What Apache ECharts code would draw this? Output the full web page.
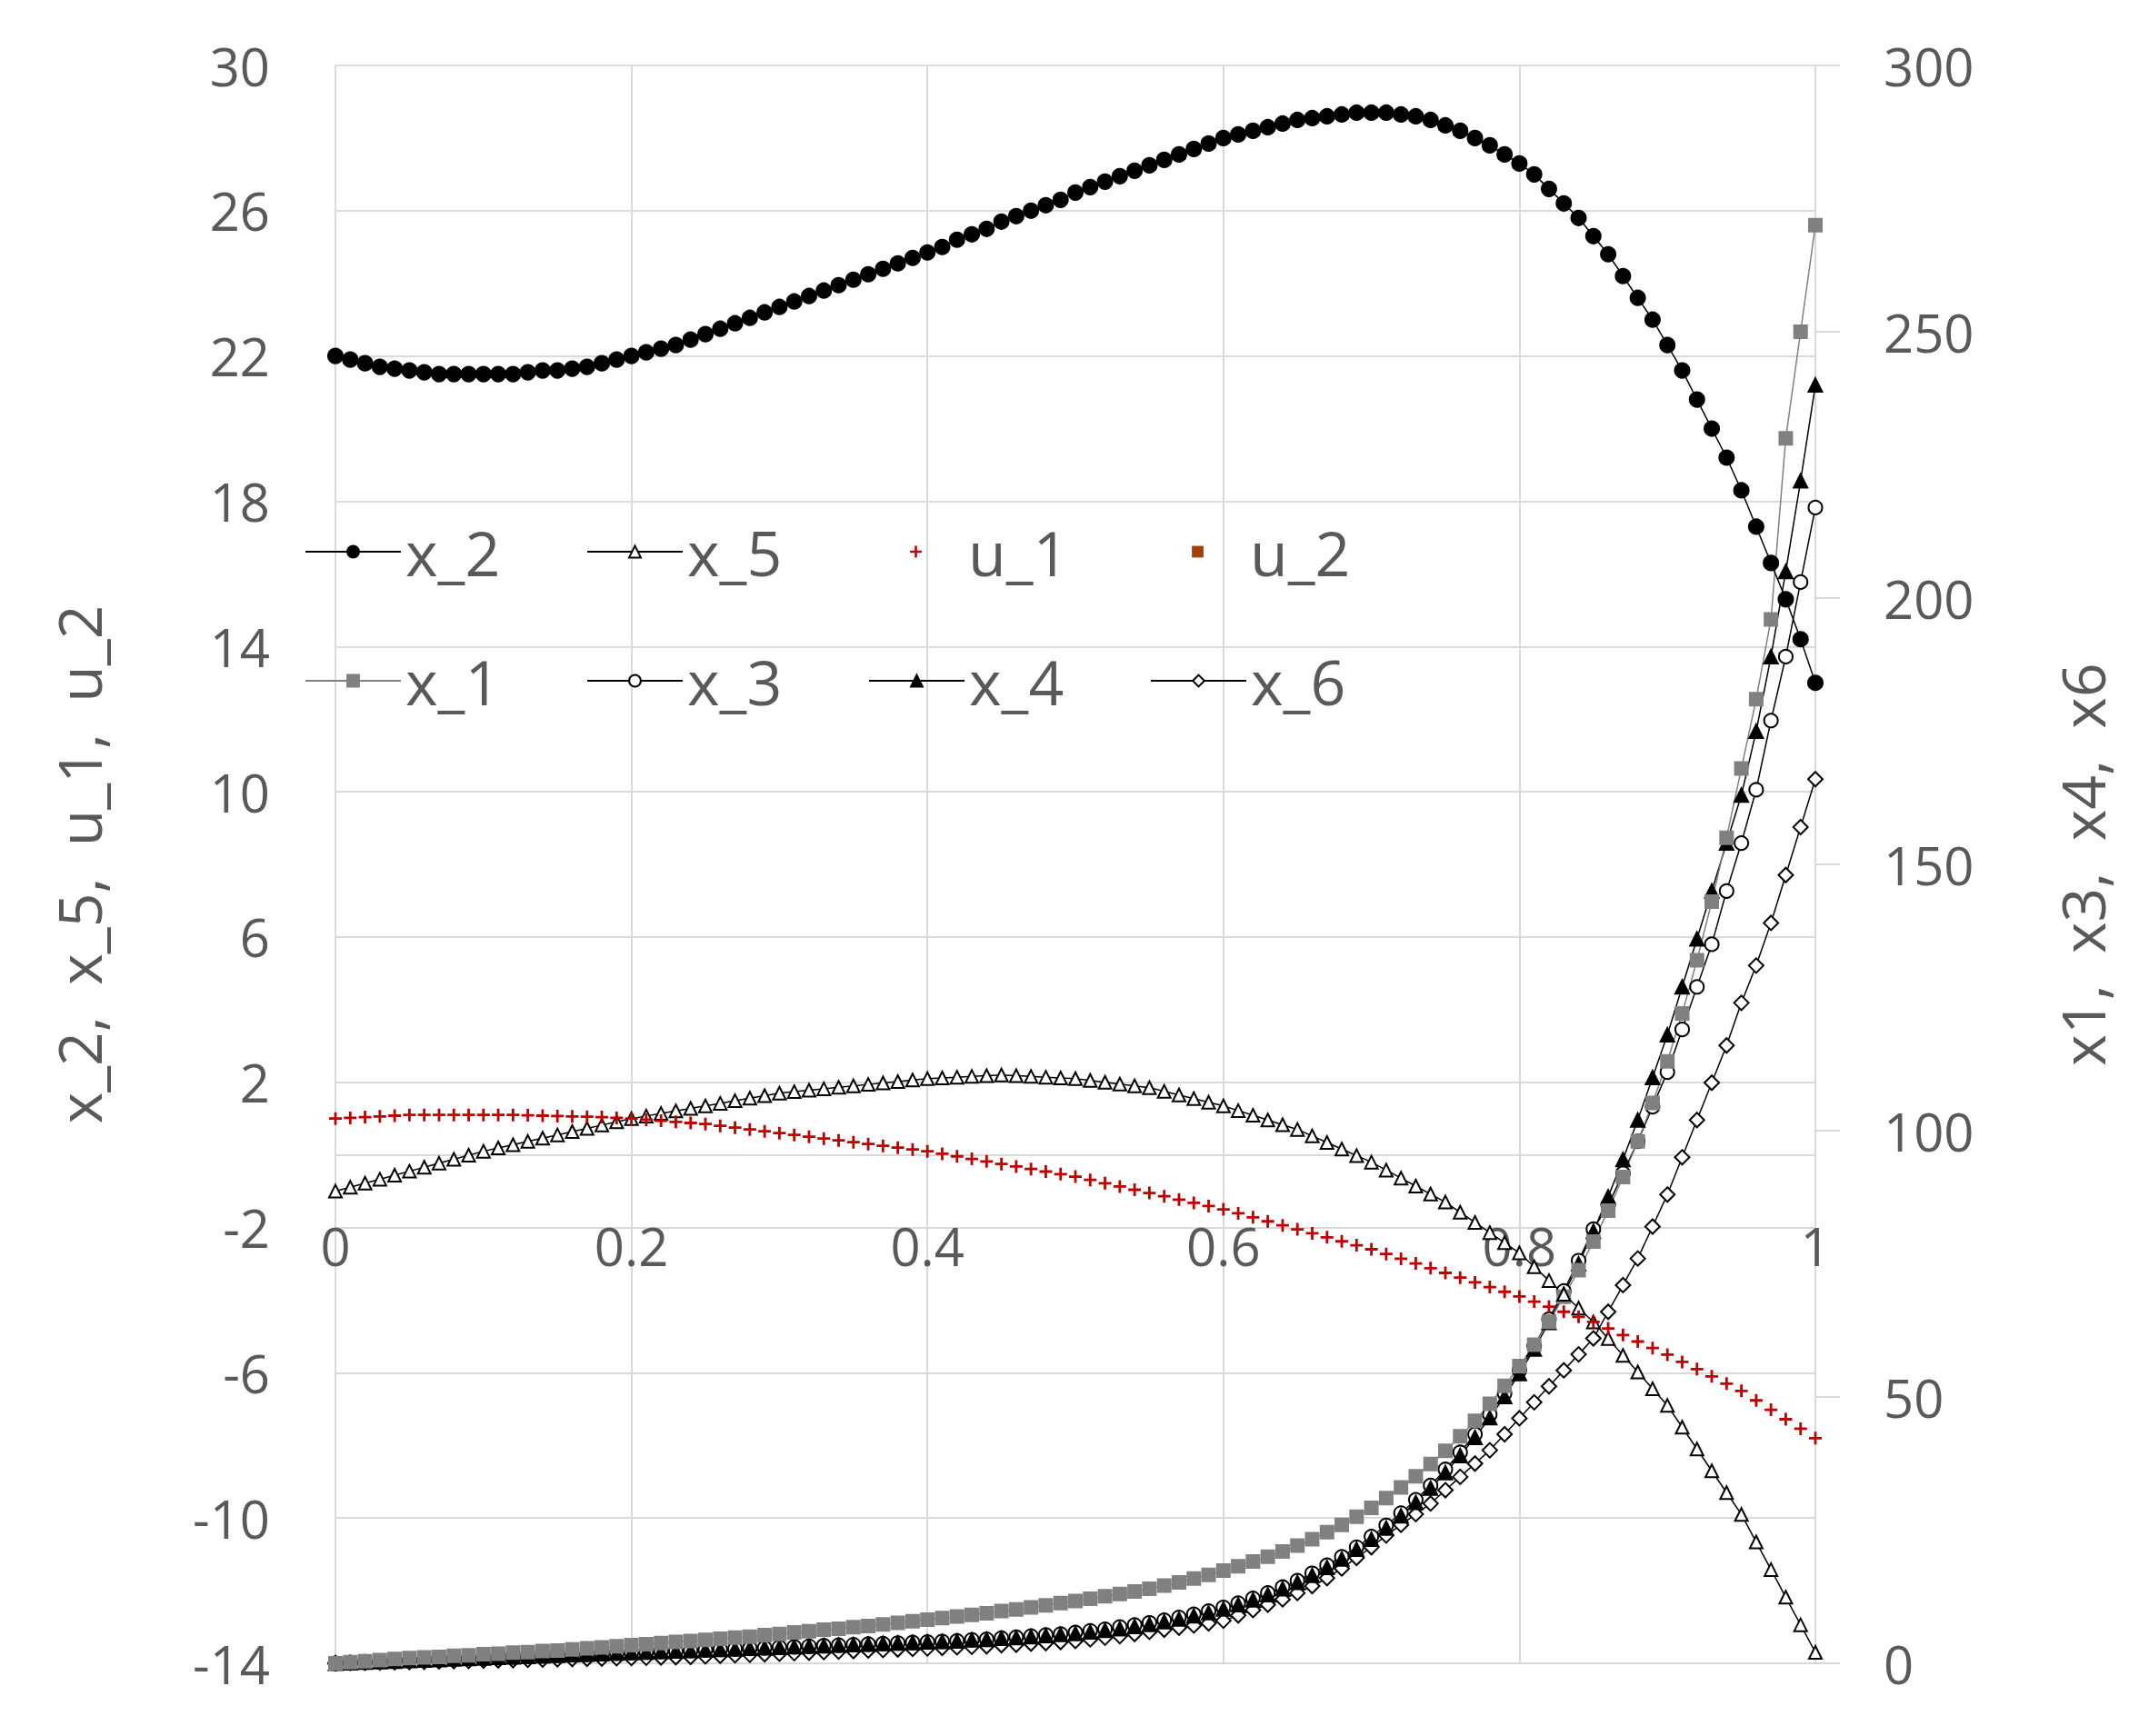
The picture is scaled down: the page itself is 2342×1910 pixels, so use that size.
<!DOCTYPE html>
<html>
<head>
<meta charset="utf-8">
<script src="https://cdn.jsdelivr.net/npm/echarts@6/dist/echarts.min.js"></script>
<style>
  html, body { margin: 0; padding: 0; background: #fff; }
  #chart { width: 2342px; height: 1910px; }
</style>
</head>
<body>
<div id="chart"></div>
<script>
// values sampled every 0.01 from t = 0 to 1
var x2 = [22.0,21.9,21.8,21.7,21.65,21.6,21.55,21.5,21.5,21.5,21.5,
  21.5,21.5,21.55,21.6,21.6,21.65,21.7,21.8,21.9,22.0,
  22.1,22.2,22.3,22.45,22.6,22.75,22.9,23.05,23.2,23.35,
  23.5,23.65,23.8,23.95,24.1,24.25,24.4,24.55,24.7,24.85,
  25.0,25.2,25.35,25.5,25.7,25.85,26.0,26.15,26.3,26.5,
  26.65,26.8,26.95,27.1,27.25,27.4,27.55,27.7,27.85,28.0,
  28.1,28.2,28.3,28.4,28.5,28.55,28.6,28.65,28.7,28.7,
  28.7,28.65,28.6,28.5,28.35,28.2,28.0,27.8,27.55,27.3,
  27.0,26.6,26.2,25.8,25.3,24.8,24.2,23.6,23.0,22.3,
  21.6,20.8,20.0,19.2,18.3,17.3,16.3,15.3,14.2,13.0];
var x5 = [-1.0,-0.89,-0.78,-0.67,-0.56,-0.45,-0.34,-0.23,-0.12,-0.01,0.1,
  0.19,0.28,0.37,0.46,0.55,0.64,0.73,0.82,0.91,1.0,
  1.07,1.14,1.21,1.28,1.35,1.42,1.49,1.56,1.63,1.7,
  1.74,1.78,1.82,1.86,1.9,1.94,1.98,2.02,2.06,2.1,
  2.12,2.14,2.16,2.18,2.2,2.18,2.16,2.14,2.12,2.1,
  2.05,2.0,1.95,1.9,1.85,1.75,1.65,1.55,1.45,1.35,
  1.22,1.09,0.96,0.83,0.7,0.52,0.34,0.16,-0.02,-0.2,
  -0.42,-0.64,-0.86,-1.08,-1.3,-1.58,-1.86,-2.14,-2.42,-2.7,
  -3.08,-3.46,-3.84,-4.22,-4.6,-5.06,-5.52,-5.98,-6.44,-6.9,
  -7.5,-8.1,-8.7,-9.3,-9.9,-10.66,-11.42,-12.18,-12.94,-13.7];
var u1 = [1.0,1.02,1.04,1.06,1.08,1.1,1.1,1.1,1.1,1.1,1.1,
  1.1,1.1,1.09,1.08,1.07,1.06,1.05,1.04,1.02,1.0,
  0.97,0.94,0.91,0.88,0.85,0.8,0.75,0.7,0.65,0.6,
  0.55,0.5,0.45,0.4,0.35,0.3,0.25,0.2,0.15,0.1,
  0.03,-0.04,-0.11,-0.18,-0.25,-0.32,-0.39,-0.46,-0.53,-0.6,
  -0.69,-0.78,-0.87,-0.96,-1.05,-1.14,-1.23,-1.32,-1.41,-1.5,
  -1.61,-1.72,-1.83,-1.94,-2.05,-2.16,-2.27,-2.38,-2.49,-2.6,
  -2.73,-2.86,-2.99,-3.12,-3.25,-3.38,-3.51,-3.64,-3.77,-3.9,
  -4.04,-4.18,-4.32,-4.46,-4.6,-4.78,-4.96,-5.14,-5.32,-5.5,
  -5.7,-5.9,-6.1,-6.3,-6.5,-6.76,-7.02,-7.28,-7.54,-7.8];
var u2 = [];
var x1 = [0,0.2,0.4,0.6,0.8,1.0,1.1,1.2,1.4,1.5,1.7,
  1.8,2.0,2.1,2.3,2.4,2.6,2.8,3.0,3.2,3.4,
  3.6,3.8,4.0,4.2,4.4,4.6,4.8,5.0,5.3,5.5,
  5.8,6.0,6.3,6.5,6.8,7.0,7.3,7.6,7.9,8.2,
  8.5,8.8,9.1,9.4,9.8,10.1,10.5,10.9,11.3,11.7,
  12.1,12.6,13.0,13.5,14.0,14.6,15.2,15.9,16.6,17.4,
  18.2,19.1,20.0,21.0,22.1,23.3,24.6,26.0,27.5,29.2,
  31.0,33.0,35.1,37.4,39.9,42.6,45.5,48.7,52.1,55.8,
  59.8,64.1,68.8,73.8,79.2,85.0,91.3,98.0,105.2,113.0,
  122,132,143,155,168,181,196,230,250,270];
var x3 = [0,0.1,0.2,0.3,0.4,0.5,0.6,0.7,0.8,0.9,1.0,
  1.1,1.2,1.3,1.4,1.5,1.6,1.7,1.8,1.9,2.0,
  2.1,2.2,2.3,2.4,2.5,2.6,2.7,2.8,2.9,3.0,
  3.1,3.2,3.3,3.4,3.5,3.6,3.7,3.8,3.9,4.0,
  4.1,4.2,4.4,4.5,4.7,4.9,5.1,5.3,5.5,5.8,
  6.1,6.4,6.8,7.2,7.6,8.1,8.6,9.2,9.8,10.5,
  11.3,12.2,13.2,14.3,15.5,16.9,18.4,20.0,21.8,23.8,
  25.9,28.2,30.7,33.4,36.4,39.6,43.0,46.7,50.7,55.0,
  59.6,64.6,69.9,75.6,81.5,86,92,98,104.5,111,
  119,127,135,145,154,164,177,189,203,217];
var x4 = [0,0.1,0.2,0.3,0.4,0.5,0.6,0.7,0.8,0.9,1.0,
  1.1,1.2,1.3,1.4,1.5,1.6,1.7,1.8,1.9,2.0,
  2.1,2.2,2.3,2.4,2.5,2.6,2.7,2.8,2.9,3.0,
  3.1,3.2,3.3,3.4,3.5,3.6,3.7,3.8,3.9,4.0,
  4.1,4.2,4.4,4.5,4.7,4.8,5.0,5.2,5.4,5.6,
  5.9,6.2,6.5,6.9,7.3,7.8,8.3,8.9,9.5,10.2,
  11.0,11.9,12.9,14.0,15.2,16.5,18.0,19.6,21.4,23.3,
  25.4,27.7,30.2,32.9,35.8,39.0,42.4,46.1,50.1,54.4,
  59.0,64.0,69.3,75.0,81.1,87.6,94.6,102.0,110,118,
  127,136,145,154,163,175,189,205,222,240];
var x6 = [0,0.05,0.1,0.15,0.2,0.25,0.3,0.35,0.4,0.45,0.5,
  0.55,0.6,0.65,0.7,0.75,0.8,0.85,0.9,0.95,1.0,
  1.05,1.1,1.15,1.2,1.3,1.4,1.5,1.6,1.7,1.8,
  1.9,2.0,2.1,2.2,2.3,2.4,2.5,2.6,2.7,2.8,
  2.9,3.0,3.1,3.2,3.4,3.5,3.7,3.8,4.0,4.2,
  4.5,4.8,5.1,5.5,5.9,6.3,6.7,7.1,7.5,8.0,
  9,10,11,12,13.2,14.5,16,17.8,19.8,21.8,
  24,26,28,30,32.5,35,37.5,40,43,46,
  49,52,55,58,61,66,71,76,82,88,
  95,102,109,116,124,131,139,148,157,166];
var xTicks = [0, 0.2, 0.4, 0.6, 0.8, 1];

var labelColor = '#595959';
var gridColor = '#d9d9d9';
var font = 'Open Sans, sans-serif';

function pairs(arr) {
  return arr.map(function(v, i) { return [i / 100, v]; });
}

var plus = 'path://M4,0h2v4h4v2h-4v4h-2v-4h-4v-2h4z';
var dash = 'path://M0,0h20v4h-20z';

function lineSeries(name, data, yIdx, symbol, fill, stroke, lineColor, size) {
  return {
    name: name, type: 'line', yAxisIndex: yIdx, data: pairs(data),
    symbol: symbol, symbolSize: size || 15, showAllSymbol: true,
    lineStyle: { color: lineColor, width: 1.5 },
    itemStyle: { color: fill, borderColor: stroke, borderWidth: 2 },
    emphasis: { disabled: true }
  };
}

var series = [
  lineSeries('x_6', x6, 1, 'diamond', '#fff', '#000', '#000', 16),
  lineSeries('x_3', x3, 1, 'circle', '#fff', '#000', '#000'),
  lineSeries('x_4', x4, 1, 'triangle', '#000', '#000', '#000'),
  lineSeries('x_1', x1, 1, 'rect', '#808080', '#808080', '#808080', 14),
  lineSeries('x_5', x5, 0, 'triangle', '#fff', '#000', '#000', 14),
  lineSeries('x_2', x2, 0, 'circle', '#000', '#000', '#000', 16),
  {
    name: 'u_1', type: 'line', yAxisIndex: 0, data: pairs(u1),
    symbol: plus, symbolSize: 14, showAllSymbol: true,
    lineStyle: { width: 0, opacity: 0 },
    itemStyle: { color: '#c00000' }
  },
  {
    name: 'u_2', type: 'line', yAxisIndex: 0, data: u2,
    symbol: dash, symbolKeepAspect: true, symbolSize: [20, 4],
    lineStyle: { width: 0, opacity: 0 },
    itemStyle: { color: '#a0400a' }
  }
];

function legendAt(name, left, top) {
  return {
    data: [name], left: left, top: top, itemWidth: 105, itemHeight: 16,
    itemGap: 0, textStyle: { fontSize: 68, color: labelColor, fontFamily: font }
  };
}

var chart = echarts.init(document.getElementById('chart'), null, { renderer: 'svg' });
chart.setOption({
  animation: false,
  grid: { left: 369, right: 345, top: 72, bottom: 80, outerBoundsMode: 'none' },
  legend: [
    legendAt('x_2', 330, 568), legendAt('x_5', 640, 568),
    legendAt('u_1', 950, 568), legendAt('u_2', 1260, 568),
    legendAt('x_1', 330, 710), legendAt('x_3', 640, 710),
    legendAt('x_4', 950, 710), legendAt('x_6', 1260, 710)
  ],
  xAxis: {
    type: 'value', min: 0, max: 1, interval: 0.2,
    offset: -559,
    axisLine: { onZero: false, lineStyle: { color: gridColor, width: 2 } },
    axisTick: { show: false },
    axisLabel: { fontSize: 58, color: labelColor, fontFamily: font, margin: 70,
      formatter: function(v) { return xTicks.indexOf(+v.toFixed(1)) >= 0 ? String(+v.toFixed(1)) : ''; } },
    splitLine: { show: true, lineStyle: { color: gridColor, width: 2 } }
  },
  yAxis: [{
    type: 'value', min: -14, max: 30, interval: 4, position: 'left',
    name: 'x_2,  x_5,  u_1,  u_2', nameLocation: 'middle', nameGap: 250, nameRotate: 90,
    nameTextStyle: { fontSize: 66, color: labelColor, fontFamily: font },
    axisLine: { show: true, lineStyle: { color: gridColor, width: 2 } },
    axisTick: { show: false },
    axisLabel: { fontSize: 58, color: labelColor, fontFamily: font, margin: 72 },
    splitLine: { lineStyle: { color: gridColor, width: 2 } }
  }, {
    type: 'value', min: 0, max: 300, interval: 50, position: 'right',
    name: 'x1,  x3,  x4,  x6', nameLocation: 'middle', nameGap: 260, nameRotate: 90,
    nameTextStyle: { fontSize: 66, color: labelColor, fontFamily: font },
    axisLine: { show: true, lineStyle: { color: gridColor, width: 2 } },
    axisTick: { show: true, length: 27, lineStyle: { color: gridColor, width: 2 } },
    axisLabel: { fontSize: 58, color: labelColor, fontFamily: font, margin: 75 },
    splitLine: { show: false }
  }],
  series: series
});
</script>
</body>
</html>
